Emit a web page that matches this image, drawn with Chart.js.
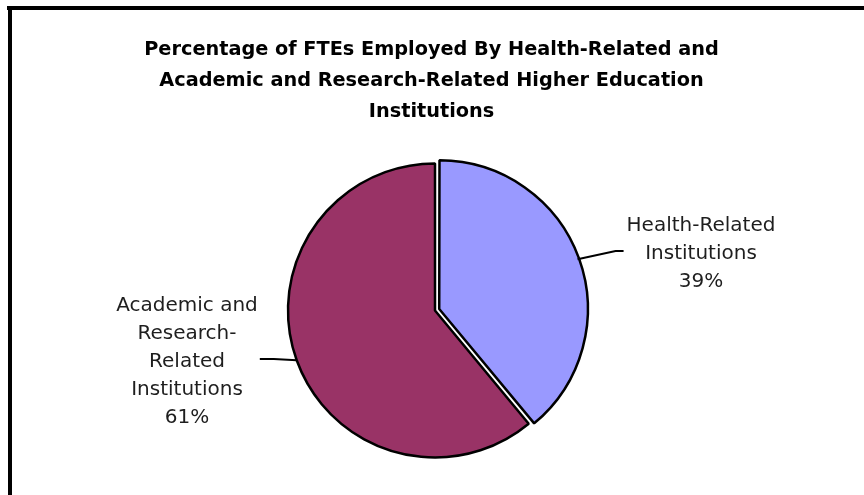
<!DOCTYPE html>
<html>
<head>
<meta charset="utf-8">
<script src="https://cdn.jsdelivr.net/npm/chart.js@4/dist/chart.umd.min.js"></script>
<style>
  html, body { margin: 0; padding: 0; background: #ffffff; }
  canvas { display: block; }
</style>
</head>
<body>
<canvas id="c" width="864" height="495"></canvas>
<script>
// ---- data ----
const categories = ['Health-Related Institutions', 'Academic and Research-Related Institutions'];
const labelLines = [['Health-Related', 'Institutions'], ['Academic and', 'Research-', 'Related', 'Institutions']];
const values = [39, 61];
const sliceColors = ['#9999FF', '#993366'];
const titleLines = [
  'Percentage of FTEs Employed By Health-Related and',
  'Academic and Research-Related Higher Education',
  'Institutions'
];

// ---- layout (not data) ----
const labelBlockOffsets = [{dx: 266, dy: -58.5, side: 'right'}, {dx: -248, dy: 49.5, side: 'left'}];

const framePlugin = {
  id: 'frame',
  beforeDraw(chart) {
    const ctx = chart.ctx;
    ctx.save();
    ctx.fillStyle = '#ffffff';
    ctx.fillRect(0, 0, chart.width, chart.height);
    ctx.fillStyle = '#000000';
    ctx.fillRect(7, 6, chart.width - 7, 4);
    ctx.fillRect(8, 6, 4, chart.height - 6);
    // title
    ctx.font = 'bold 19.3px "DejaVu Sans"';
    ctx.textAlign = 'center';
    ctx.textBaseline = 'alphabetic';
    ctx.fillStyle = '#000000';
    titleLines.forEach((t, i) => ctx.fillText(t, 431.5, 55 + i * 31));
    ctx.restore();
  }
};

const labelPlugin = {
  id: 'outerLabels',
  afterDatasetsDraw(chart) {
    const ctx = chart.ctx;
    const meta = chart.getDatasetMeta(0);
    const lineH = 28;
    ctx.save();
    ctx.font = '20px "DejaVu Sans"';
    ctx.textAlign = 'center';
    ctx.textBaseline = 'alphabetic';
    meta.data.forEach((arc, i) => {
      const mid = (arc.startAngle + arc.endAngle) / 2;
      const off = (arc.options.offset || 0) / 4;
      const cx = arc.x + Math.cos(mid) * off;
      const cy = arc.y + Math.sin(mid) * off;
      const r = arc.outerRadius;
      const px = cx + Math.cos(mid) * r;
      const py = cy + Math.sin(mid) * r;

      const lines = labelLines[i].concat([values[i] + '%']);
      const o = labelBlockOffsets[i];
      const bx = arc.x + o.dx;
      const by = arc.y + o.dy;
      let maxW = 0;
      lines.forEach(l => { maxW = Math.max(maxW, ctx.measureText(l).width); });
      const n = lines.length;
      // text
      ctx.fillStyle = '#1e1e1e';
      lines.forEach((l, k) => {
        ctx.fillText(l, bx, by - (n - 1) / 2 * lineH + k * lineH + 7);
      });
      // leader line
      const endX = o.side === 'right' ? bx - maxW / 2 - 3 : bx + maxW / 2 + 2;
      const elbowX = o.side === 'right' ? endX - 8 : endX + 14;
      const endY = by - 1;
      ctx.strokeStyle = '#000000';
      ctx.lineWidth = 2;
      ctx.beginPath();
      ctx.moveTo(px, py);
      ctx.lineTo(elbowX, endY);
      ctx.lineTo(endX, endY);
      ctx.stroke();
    });
    ctx.restore();
  }
};

new Chart(document.getElementById('c'), {
  type: 'pie',
  data: {
    labels: categories,
    datasets: [{
      data: values,
      backgroundColor: sliceColors,
      borderColor: '#000000',
      borderWidth: 2.5,
      offset: [18, 0],
      radius: 147
    }]
  },
  options: {
    responsive: false,
    devicePixelRatio: 1,
    animation: false,
    events: [],
    layout: { padding: { left: 250, right: 244, top: 150, bottom: 24 } },
    plugins: {
      legend: { display: false },
      tooltip: { enabled: false },
      title: { display: false }
    }
  },
  plugins: [framePlugin, labelPlugin]
});
</script>
</body>
</html>
